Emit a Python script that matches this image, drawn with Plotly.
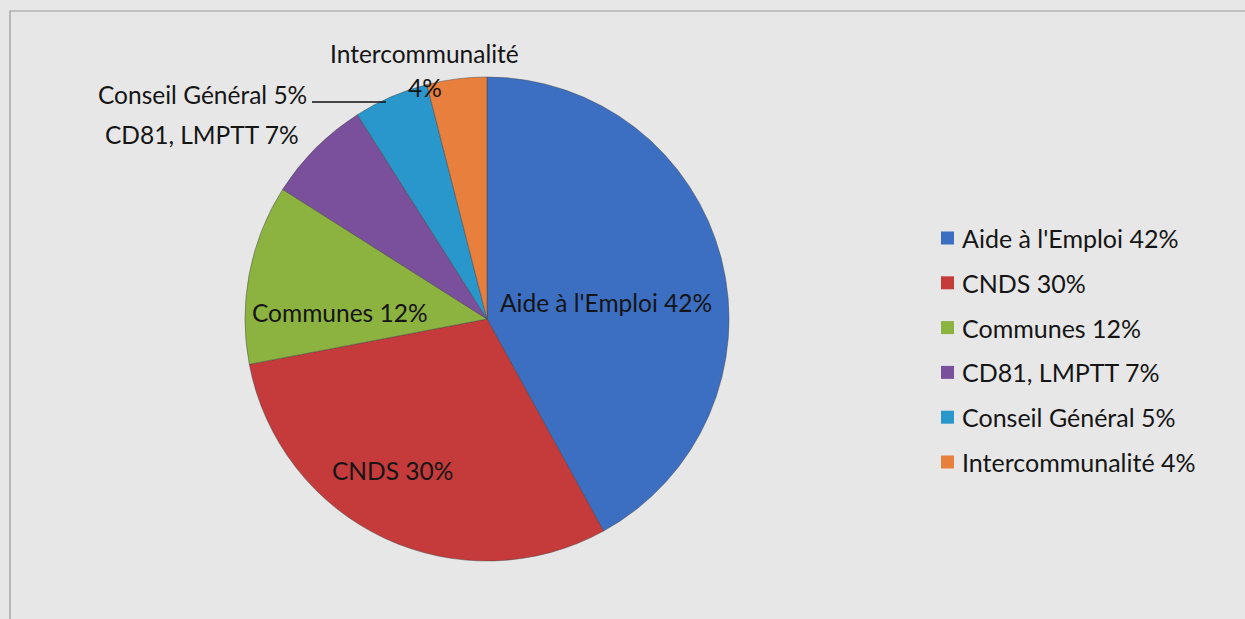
import plotly.graph_objects as go

labels = ["Aide à l'Emploi", "CNDS", "Communes", "CD81, LMPTT", "Conseil Général", "Intercommunalité"]
values = [42, 30, 12, 7, 5, 4]
colors = ["#3c6ec2", "#c53a3b", "#8cb23f", "#7a4f9b", "#2a97cc", "#e97f3c"]

W, H = 1245, 619
FONT = "Lato"
TXT = "#151515"

def px(x):
    return x / W

def py(y):
    return 1 - y / H

cx, cy, r = 487, 319, 242

fig = go.Figure(go.Pie(
    labels=labels,
    values=values,
    sort=False,
    direction="clockwise",
    rotation=0,
    marker=dict(colors=colors, line=dict(color="rgba(70,70,70,0.6)", width=0.8)),
    textinfo="none",
    hoverinfo="label+percent",
    showlegend=False,
    domain=dict(x=[px(cx - r), px(cx + r)], y=[py(cy + r), py(cy - r)]),
))

annotations = []
shapes = []

# Frame
shapes.append(dict(type="rect", xref="paper", yref="paper",
                   x0=px(10), x1=px(1260), y0=py(640), y1=py(11),
                   line=dict(color="#9a9a9a", width=1.2), fillcolor="rgba(0,0,0,0)"))

def lab(i):
    return f"{labels[i]} {values[i]}%"

pie_fs = 24.5
# inside labels
inside = {0: (606, 302), 1: (393, 470), 2: (340, 312)}
for i, (x, y) in inside.items():
    annotations.append(dict(x=px(x), y=py(y), xref="paper", yref="paper", text=lab(i),
                            showarrow=False, xanchor="center", yanchor="middle",
                            font=dict(family=FONT, size=pie_fs, color=TXT)))
# outside labels
annotations.append(dict(x=px(424), y=py(53), xref="paper", yref="paper",
                        text=labels[5], showarrow=False, xanchor="center", yanchor="middle",
                        font=dict(family=FONT, size=pie_fs, color=TXT)))
annotations.append(dict(x=px(425), y=py(87), xref="paper", yref="paper",
                        text=f"{values[5]}%", showarrow=False, xanchor="center", yanchor="middle",
                        font=dict(family=FONT, size=pie_fs, color=TXT)))
annotations.append(dict(x=px(309), y=py(95), xref="paper", yref="paper",
                        text=lab(4), showarrow=False, xanchor="right", yanchor="middle",
                        font=dict(family=FONT, size=pie_fs, color=TXT)))
annotations.append(dict(x=px(301), y=py(135), xref="paper", yref="paper",
                        text=lab(3), showarrow=False, xanchor="right", yanchor="middle",
                        font=dict(family=FONT, size=pie_fs, color=TXT)))
# leader line for Conseil Général
shapes.append(dict(type="line", xref="paper", yref="paper",
                   x0=px(312), x1=px(386), y0=py(102), y1=py(102),
                   line=dict(color="#111111", width=1.6)))

# legend
leg_fs = 25
row0, step = 238, 44.8
for i in range(len(labels)):
    yc = row0 + i * step
    shapes.append(dict(type="rect", xref="paper", yref="paper",
                       x0=px(941), x1=px(954), y0=py(yc + 6.5), y1=py(yc - 6.5),
                       line=dict(width=0), fillcolor=colors[i]))
    annotations.append(dict(x=px(960), y=py(yc), xref="paper", yref="paper", text=lab(i),
                            showarrow=False, xanchor="left", yanchor="middle",
                            font=dict(family=FONT, size=leg_fs, color=TXT)))

fig.update_layout(
    width=W, height=H,
    margin=dict(l=0, r=0, t=0, b=0),
    paper_bgcolor="#e7e7e7",
    plot_bgcolor="#e7e7e7",
    annotations=annotations,
    shapes=shapes,
    font=dict(family=FONT, color=TXT),
)

fig.write_html("out.html",
               config={"displayModeBar": False},
               post_script="document.body.style.margin='0';document.body.style.overflow='hidden';")
